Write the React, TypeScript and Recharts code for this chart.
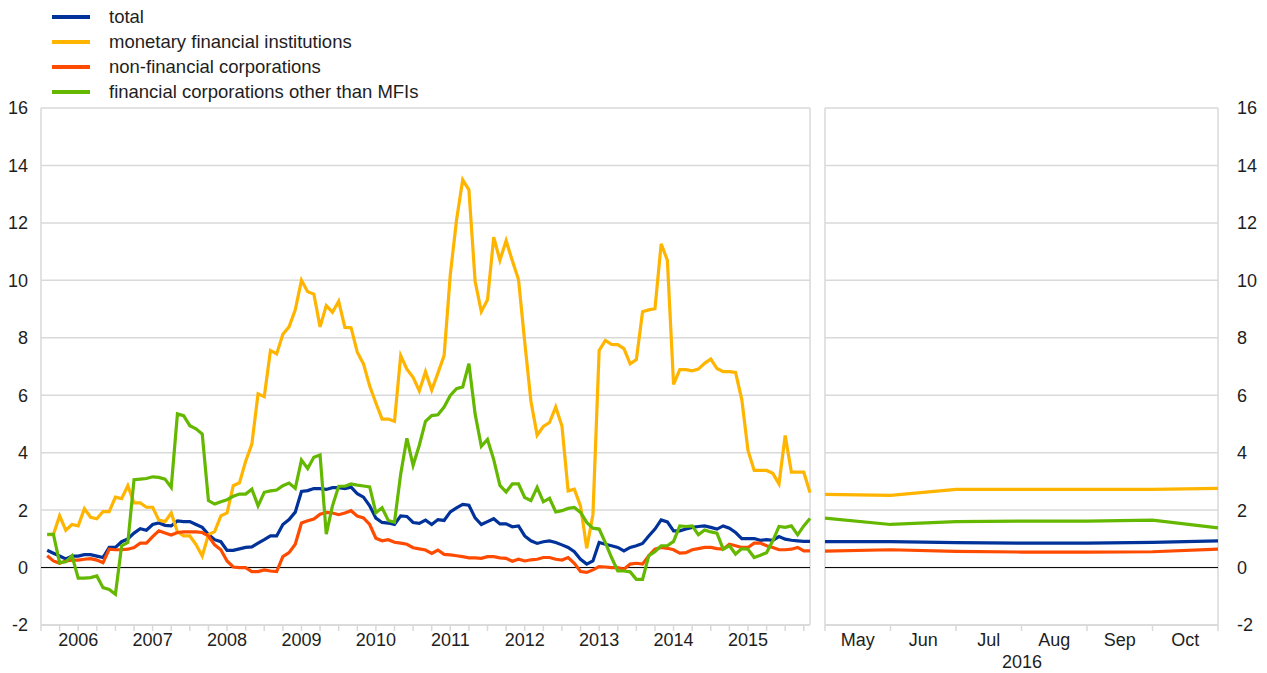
import { LineChart, Line, XAxis, YAxis, CartesianGrid, ReferenceLine } from 'recharts';

// monthly, Jan 2006 - Apr 2016
const total = [
  0.6, 0.5, 0.4, 0.3, 0.4, 0.4, 0.45, 0.45, 0.4, 0.35, 0.7, 0.7,
  0.9, 1.0, 1.2, 1.35, 1.3, 1.5, 1.55, 1.47, 1.45, 1.62, 1.6, 1.6,
  1.5, 1.4, 1.15, 0.97, 0.9, 0.6, 0.6, 0.65, 0.7, 0.72, 0.85, 0.97,
  1.1, 1.1, 1.5, 1.67, 1.93, 2.65, 2.68, 2.75, 2.75, 2.72, 2.78, 2.78,
  2.75, 2.8, 2.57, 2.45, 2.15, 1.72, 1.57, 1.55, 1.5, 1.8, 1.78, 1.57,
  1.54, 1.65, 1.5, 1.67, 1.64, 1.94, 2.08, 2.2, 2.17, 1.73, 1.5, 1.6,
  1.7, 1.52, 1.52, 1.42, 1.45, 1.1, 0.93, 0.84, 0.9, 0.93, 0.87, 0.79,
  0.7, 0.55, 0.29, 0.12, 0.23, 0.87, 0.81, 0.76, 0.7, 0.58, 0.7, 0.76,
  0.84, 1.1, 1.34, 1.66, 1.59, 1.28, 1.28, 1.34, 1.4, 1.43, 1.45, 1.4,
  1.34, 1.45, 1.37, 1.22, 1.01, 1.01, 1.01, 0.95, 0.97, 0.95, 1.08, 0.99,
  0.95, 0.93, 0.91, 0.91,
];
const mfi = [
  1.15, 1.15, 1.8, 1.3, 1.5, 1.45, 2.05, 1.75, 1.7, 1.95, 1.95, 2.45,
  2.4, 2.85, 2.25, 2.25, 2.1, 2.1, 1.65, 1.6, 1.9, 1.25, 1.1, 1.1,
  0.8, 0.4, 1.15, 1.25, 1.8, 1.9, 2.85, 2.95, 3.7, 4.3, 6.05, 5.95,
  7.56, 7.44, 8.12, 8.38, 8.97, 10.0, 9.6, 9.52, 8.38, 9.12, 8.89, 9.27,
  8.36, 8.35, 7.5, 7.09, 6.32, 5.73, 5.17, 5.17, 5.09, 7.38, 6.91, 6.62,
  6.15, 6.82, 6.18, 6.77, 7.38, 10.2, 12.09, 13.5, 13.15, 9.97, 8.91, 9.32,
  11.5, 10.7, 11.38, 10.68, 10.03, 7.85, 5.79, 4.61, 4.91, 5.05, 5.59, 4.93,
  2.67, 2.73, 2.14, 0.67, 1.85, 7.56, 7.91, 7.77, 7.76, 7.62, 7.09, 7.24,
  8.91, 8.97, 9.01, 11.27, 10.7, 6.38, 6.89, 6.89, 6.85, 6.91, 7.11, 7.26,
  6.93, 6.82, 6.82, 6.79, 5.85, 4.08, 3.38, 3.38, 3.38, 3.28, 2.91, 4.6,
  3.32, 3.32, 3.32, 2.61,
];
const nfc = [
  0.41, 0.23, 0.15, 0.23, 0.26, 0.26, 0.29, 0.31, 0.26, 0.17, 0.64, 0.62,
  0.62, 0.64, 0.7, 0.85, 0.85, 1.08, 1.28, 1.2, 1.13, 1.22, 1.24, 1.24,
  1.24, 1.22, 1.1, 0.79, 0.62, 0.23, 0.02, 0.0, 0.0, -0.14, -0.14, -0.08,
  -0.12, -0.14, 0.38, 0.52, 0.81, 1.55, 1.63, 1.69, 1.86, 1.92, 1.9, 1.84,
  1.9, 1.98, 1.79, 1.73, 1.5, 1.02, 0.93, 0.97, 0.88, 0.85, 0.81, 0.69,
  0.65, 0.61, 0.49, 0.61, 0.46, 0.44, 0.41, 0.38, 0.34, 0.34, 0.32, 0.38,
  0.38, 0.34, 0.32, 0.22, 0.29, 0.23, 0.27, 0.29, 0.35, 0.35, 0.29, 0.26,
  0.35, 0.15, -0.14, -0.17, -0.08, 0.03, 0.02, 0.0, 0.0, -0.06, 0.12, 0.15,
  0.12, 0.41, 0.64, 0.7, 0.67, 0.62, 0.5, 0.52, 0.62, 0.66, 0.7, 0.7,
  0.66, 0.64, 0.81, 0.76, 0.7, 0.7, 0.85, 0.85, 0.76, 0.7, 0.62, 0.62,
  0.64, 0.7, 0.58, 0.58,
];
const ofi = [
  1.16, 1.16, 0.17, 0.2, 0.41, -0.37, -0.37, -0.35, -0.29, -0.7, -0.76, -0.93,
  0.76, 0.87, 3.06, 3.08, 3.1, 3.16, 3.14, 3.08, 2.79, 5.35, 5.29, 4.94,
  4.83, 4.65, 2.33, 2.21, 2.29, 2.36, 2.48, 2.56, 2.56, 2.73, 2.15, 2.62,
  2.67, 2.7, 2.85, 2.94, 2.76, 3.74, 3.45, 3.84, 3.92, 1.16, 2.15, 2.83,
  2.83, 2.91, 2.87, 2.84, 2.81, 1.91, 2.08, 1.64, 1.58, 3.26, 4.5, 3.56,
  4.26, 5.09, 5.29, 5.32, 5.59, 5.99, 6.23, 6.29, 7.1, 5.35, 4.22, 4.46,
  3.76, 2.86, 2.63, 2.91, 2.91, 2.44, 2.33, 2.79, 2.29, 2.41, 1.94, 1.98,
  2.06, 2.09, 1.92, 1.57, 1.37, 1.34, 0.87, 0.35, -0.12, -0.12, -0.15, -0.41,
  -0.41, 0.41, 0.55, 0.76, 0.76, 0.91, 1.45, 1.43, 1.45, 1.14, 1.31, 1.24,
  1.2, 0.64, 0.76, 0.47, 0.66, 0.64, 0.35, 0.43, 0.52, 0.93, 1.43, 1.4,
  1.45, 1.14, 1.45, 1.71,
];

// 2016 panel, points at month boundaries (start of May ... end of Oct)
const total2016 = [0.9, 0.9, 0.87, 0.85, 0.85, 0.88, 0.93];
const mfi2016 = [2.55, 2.51, 2.72, 2.72, 2.72, 2.72, 2.76];
const nfc2016 = [0.57, 0.62, 0.56, 0.54, 0.54, 0.55, 0.64];
const ofi2016 = [1.72, 1.5, 1.6, 1.62, 1.62, 1.65, 1.38];

const months2016 = ['May', 'Jun', 'Jul', 'Aug', 'Sep', 'Oct'];
const firstYear = 2006;
const yTicks = [-2, 0, 2, 4, 6, 8, 10, 12, 14, 16];
const quarterTicks = Array.from({ length: 42 }, (_, k) => k * 3);

const legendItems = [
  { name: 'total', color: '#003299' },
  { name: 'monetary financial institutions', color: '#ffb400' },
  { name: 'non-financial corporations', color: '#ff4b00' },
  { name: 'financial corporations other than MFIs', color: '#65b800' },
];

const FONT = "'Liberation Sans', Arial, sans-serif";
const GRID = '#d9d9d9';
const TEXT = '#1e1e1e';
const tickStyle = { fontSize: 18, fill: TEXT, fontFamily: FONT };

const leftData = total.map((v, i) => ({
  m: i + 1,
  total: v,
  mfi: mfi[i],
  nfc: nfc[i],
  ofi: ofi[i],
}));

const rightData = total2016.map((v, i) => ({
  d: i,
  total: v,
  mfi: mfi2016[i],
  nfc: nfc2016[i],
  ofi: ofi2016[i],
}));

const bandWidth = (1218 - 825) / 6;

function MonthTick({ x, y, payload }: any) {
  const i = payload.value;
  if (i >= months2016.length) return <g />;
  return (
    <text x={x + bandWidth / 2} y={y} dy="0.71em" textAnchor="middle" {...tickStyle}>
      {months2016[i]}
    </text>
  );
}

function series() {
  return [
    <Line key="t" dataKey="total" stroke="#003299" strokeWidth={3.2} dot={false} isAnimationActive={false} />,
    <Line key="m" dataKey="mfi" stroke="#ffb400" strokeWidth={3.2} dot={false} isAnimationActive={false} />,
    <Line key="n" dataKey="nfc" stroke="#ff4b00" strokeWidth={3.2} dot={false} isAnimationActive={false} />,
    <Line key="o" dataKey="ofi" stroke="#65b800" strokeWidth={3.2} dot={false} isAnimationActive={false} />,
  ];
}

export default function App() {
  return (
    <div style={{ position: 'absolute', left: 0, top: 0, width: 1267, height: 673, background: '#fff', fontFamily: FONT }}>
      {/* legend */}
      {legendItems.map((it, k) => (
        <div key={it.name} style={{ position: 'absolute', left: 52, top: 6 + k * 25, height: 22, display: 'flex', alignItems: 'center' }}>
          <div style={{ width: 38, height: 4, background: it.color }} />
          <span style={{ marginLeft: 19, fontSize: 18.5, color: TEXT, whiteSpace: 'nowrap' }}>{it.name}</span>
        </div>
      ))}

      <div style={{ position: 'absolute', left: 0, top: 0 }}>
        <LineChart width={815} height={673} data={leftData} margin={{ top: 108, right: 5, bottom: 18, left: 6 }}>
          <CartesianGrid vertical={false} stroke={GRID} strokeWidth={1.5} />
          <XAxis
            dataKey="m"
            type="number"
            domain={[0, 124]}
            ticks={quarterTicks}
            interval={0}
            height={30}
            tickSize={6}
            axisLine={{ stroke: GRID, strokeWidth: 1.5 }}
            tickLine={{ stroke: GRID, strokeWidth: 1.5 }}
            tick={tickStyle}
            tickFormatter={(v: number) => (v % 12 === 6 ? String(firstYear + (v - 6) / 12) : '')}
          />
          <YAxis
            domain={[-2, 16]}
            ticks={yTicks}
            interval={0}
            width={35}
            axisLine={false}
            tickLine={false}
            tickMargin={7}
            tick={tickStyle}
          />
          <ReferenceLine x={0} stroke={GRID} strokeWidth={1.5} />
          <ReferenceLine x={124} stroke={GRID} strokeWidth={1.5} />
          <ReferenceLine y={0} stroke="#000" strokeWidth={1} />
          {series()}
        </LineChart>
      </div>

      <div style={{ position: 'absolute', left: 815, top: 0 }}>
        <LineChart width={452} height={673} data={rightData} margin={{ top: 108, right: 4, bottom: 18, left: 10 }}>
          <CartesianGrid vertical={false} stroke={GRID} strokeWidth={1.5} />
          <XAxis
            dataKey="d"
            type="number"
            domain={[0, 6]}
            ticks={[0, 1, 2, 3, 4, 5, 6]}
            interval={0}
            height={30}
            tickSize={6}
            axisLine={{ stroke: GRID, strokeWidth: 1.5 }}
            tickLine={{ stroke: GRID, strokeWidth: 1.5 }}
            tick={<MonthTick />}
          />
          <YAxis
            orientation="right"
            domain={[-2, 16]}
            ticks={yTicks}
            interval={0}
            width={45}
            axisLine={false}
            tickLine={false}
            tickMargin={13}
            tick={tickStyle}
          />
          <ReferenceLine x={0} stroke={GRID} strokeWidth={1.5} />
          <ReferenceLine x={6} stroke={GRID} strokeWidth={1.5} />
          <ReferenceLine y={0} stroke="#000" strokeWidth={1} />
          {series()}
        </LineChart>
      </div>

      <div style={{ position: 'absolute', left: 972, width: 100, top: 652, textAlign: 'center', fontSize: 18, color: TEXT }}>
        2016
      </div>
    </div>
  );
}
